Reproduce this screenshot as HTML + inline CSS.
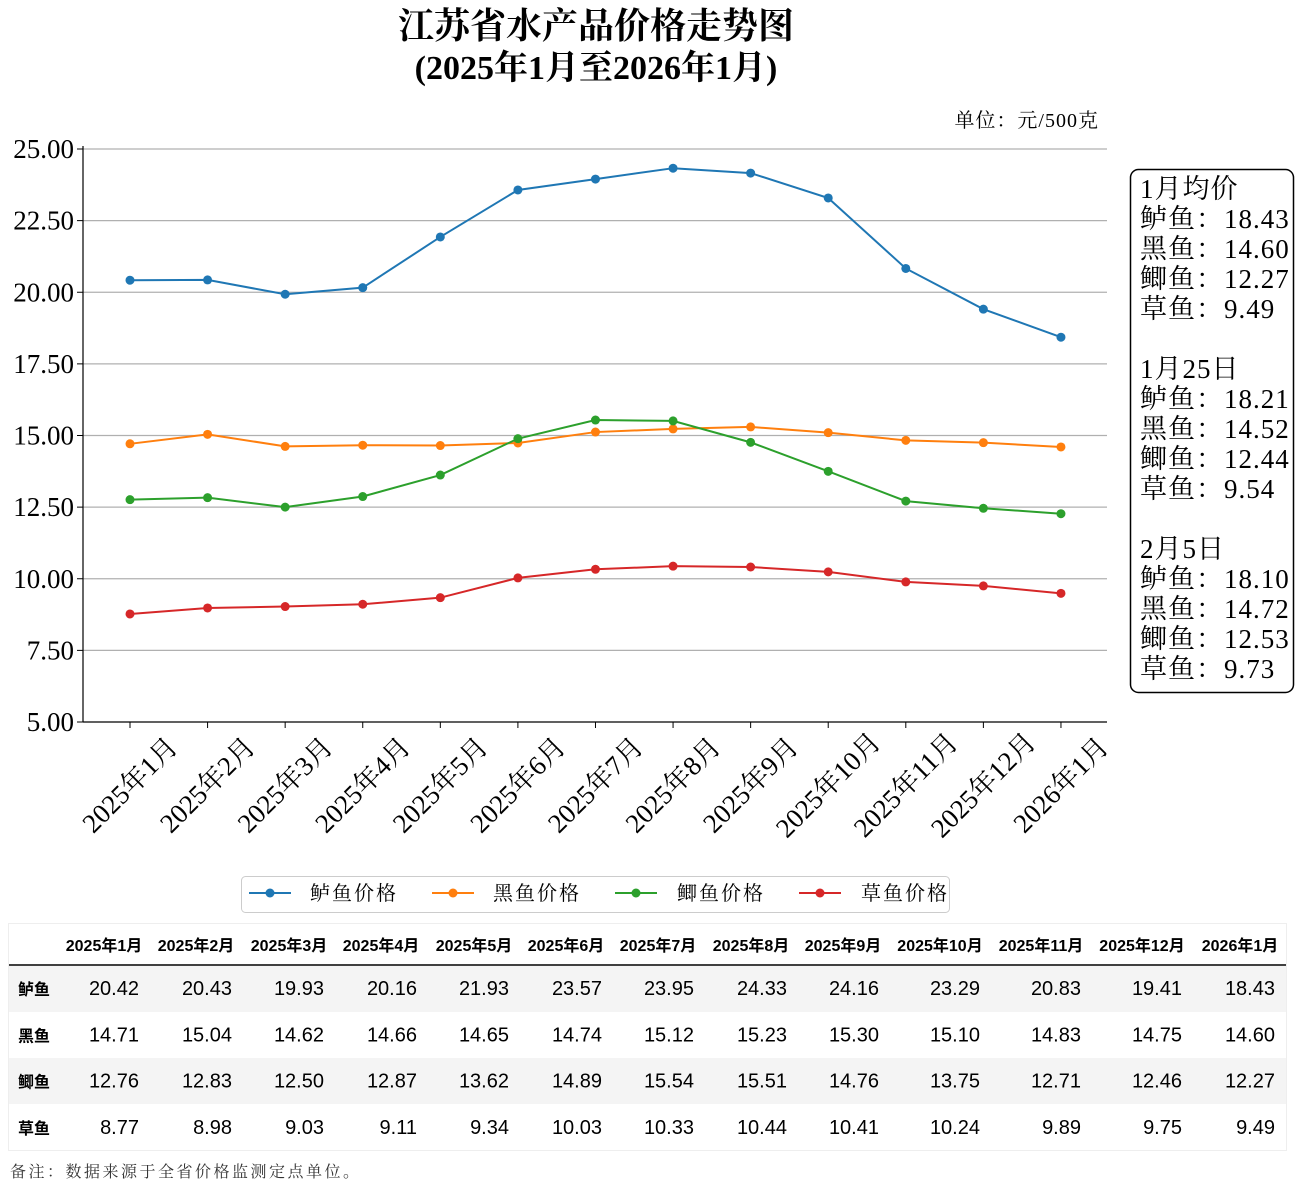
<!DOCTYPE html>
<html><head><meta charset="utf-8"><style>
body{margin:0;background:#fff;}
svg{display:block;}
.s{font-family:"Liberation Serif","Noto Serif CJK SC","Noto Sans CJK SC",serif;}
.t{font-family:"Liberation Sans","Noto Sans CJK SC",sans-serif;}
</style></head><body>
<svg width="1295" height="1201" xmlns="http://www.w3.org/2000/svg">
<text class="s" x="596" y="38" text-anchor="middle" font-size="36" font-weight="bold">江苏省水产品价格走势图</text>
<text class="s" x="596" y="79" text-anchor="middle" font-size="34" font-weight="bold">(2025年1月至2026年1月)</text>
<text class="s" x="1099" y="127" text-anchor="end" font-size="20" letter-spacing="1">单位：元/500克</text>
<g id="grid" stroke="#b0b0b0" stroke-width="1.2"></g>
<line x1="83" y1="146" x2="83" y2="722" stroke="#000" stroke-width="1.2"/>
<line x1="83" y1="722" x2="1107" y2="722" stroke="#000" stroke-width="1.2"/>
<g id="yt" class="s" font-size="27"></g>
<g id="xt" class="s" font-size="27"></g>
<g id="ser"></g>
<rect x="1130.5" y="169.5" width="163" height="523" rx="8" fill="#fff" stroke="#000" stroke-width="1.5"/>
<g class="s" font-size="27" letter-spacing="1">
<text x="1140" y="198">1月均价</text><text x="1140" y="228">鲈鱼：18.43</text><text x="1140" y="258">黑鱼：14.60</text><text x="1140" y="288">鲫鱼：12.27</text><text x="1140" y="318">草鱼：9.49</text>
<text x="1140" y="378">1月25日</text><text x="1140" y="408">鲈鱼：18.21</text><text x="1140" y="438">黑鱼：14.52</text><text x="1140" y="468">鲫鱼：12.44</text><text x="1140" y="498">草鱼：9.54</text>
<text x="1140" y="558">2月5日</text><text x="1140" y="588">鲈鱼：18.10</text><text x="1140" y="618">黑鱼：14.72</text><text x="1140" y="648">鲫鱼：12.53</text><text x="1140" y="678">草鱼：9.73</text>
</g>
<rect x="241.5" y="876.5" width="708" height="36" rx="4" fill="#fff" stroke="#ccc"/>
<g class="s" font-size="20" letter-spacing="2">
<line x1="249" y1="893" x2="291" y2="893" stroke="#1f77b4" stroke-width="2"/><circle cx="270" cy="893" r="4.5" fill="#1f77b4"/><text x="310" y="900">鲈鱼价格</text>
<line x1="432" y1="893" x2="474" y2="893" stroke="#ff7f0e" stroke-width="2"/><circle cx="453" cy="893" r="4.5" fill="#ff7f0e"/><text x="493" y="900">黑鱼价格</text>
<line x1="615" y1="893" x2="657" y2="893" stroke="#2ca02c" stroke-width="2"/><circle cx="636" cy="893" r="4.5" fill="#2ca02c"/><text x="677" y="900">鲫鱼价格</text>
<line x1="799" y1="893" x2="841" y2="893" stroke="#d62728" stroke-width="2"/><circle cx="820" cy="893" r="4.5" fill="#d62728"/><text x="861" y="900">草鱼价格</text>
</g>
<rect x="8.5" y="923.5" width="1278" height="227" fill="#fff" stroke="#eee"/>
<rect x="9" y="966" width="1277" height="46" fill="#f4f4f4"/>
<rect x="9" y="1058" width="1277" height="46" fill="#f4f4f4"/>
<line x1="9" y1="965" x2="1286" y2="965" stroke="#000" stroke-width="1.5"/>
<g id="tb" class="t"></g>
<text class="s" x="10" y="1177" font-size="16" fill="#333" letter-spacing="2.5">备注：数据来源于全省价格监测定点单位。</text>
</svg>
<script>
const ns="http://www.w3.org/2000/svg";
function el(p,t,a,txt){const e=document.createElementNS(ns,t);for(const k in a)e.setAttribute(k,a[k]);if(txt!=null)e.textContent=txt;document.getElementById(p).appendChild(e);return e;}
const Y=v=>722-(v-5)*28.65, X=i=>130+i*77.58;
for(let v=5;v<=25;v+=2.5){const y=Y(v);if(v>5)el("grid","line",{x1:83,y1:y,x2:1107,y2:y});el("yt","line",{x1:77,y1:y,x2:83,y2:y,stroke:"#000"});el("yt","text",{x:74,y:y+9,"text-anchor":"end"},v.toFixed(2));}
const months=["2025年1月","2025年2月","2025年3月","2025年4月","2025年5月","2025年6月","2025年7月","2025年8月","2025年9月","2025年10月","2025年11月","2025年12月","2026年1月"];
months.forEach((m,i)=>{const x=X(i);el("xt","line",{x1:x,y1:722,x2:x,y2:728,stroke:"#000"});el("xt","text",{x:x,y:794,"text-anchor":"middle",transform:`rotate(-45 ${x} 785)`},m);});
const S=[["鲈鱼","#1f77b4",[20.42,20.43,19.93,20.16,21.93,23.57,23.95,24.33,24.16,23.29,20.83,19.41,18.43]],
["黑鱼","#ff7f0e",[14.71,15.04,14.62,14.66,14.65,14.74,15.12,15.23,15.30,15.10,14.83,14.75,14.60]],
["鲫鱼","#2ca02c",[12.76,12.83,12.50,12.87,13.62,14.89,15.54,15.51,14.76,13.75,12.71,12.46,12.27]],
["草鱼","#d62728",[8.77,8.98,9.03,9.11,9.34,10.03,10.33,10.44,10.41,10.24,9.89,9.75,9.49]]];
S.forEach(s=>{el("ser","polyline",{points:s[2].map((v,i)=>X(i)+","+Y(v)).join(" "),fill:"none",stroke:s[1],"stroke-width":2});s[2].forEach((v,i)=>el("ser","circle",{cx:X(i),cy:Y(v),r:4.5,fill:s[1]}));});
const hc=[104,196,289,381,474,566,658,751,843,940,1041,1142,1240], re=[139,232,324,417,509,602,694,787,879,980,1081,1182,1275];
months.forEach((m,i)=>el("tb","text",{x:hc[i],y:951,"text-anchor":"middle","font-size":16,"font-weight":"bold"},m));
S.forEach((s,r)=>{const y=995+r*46.3;el("tb","text",{x:18,y:y,"font-size":16,"font-weight":"bold"},s[0]);s[2].forEach((v,i)=>el("tb","text",{x:re[i],y:y,"text-anchor":"end","font-size":20},v.toFixed(2)));});
</script>
</body></html>
